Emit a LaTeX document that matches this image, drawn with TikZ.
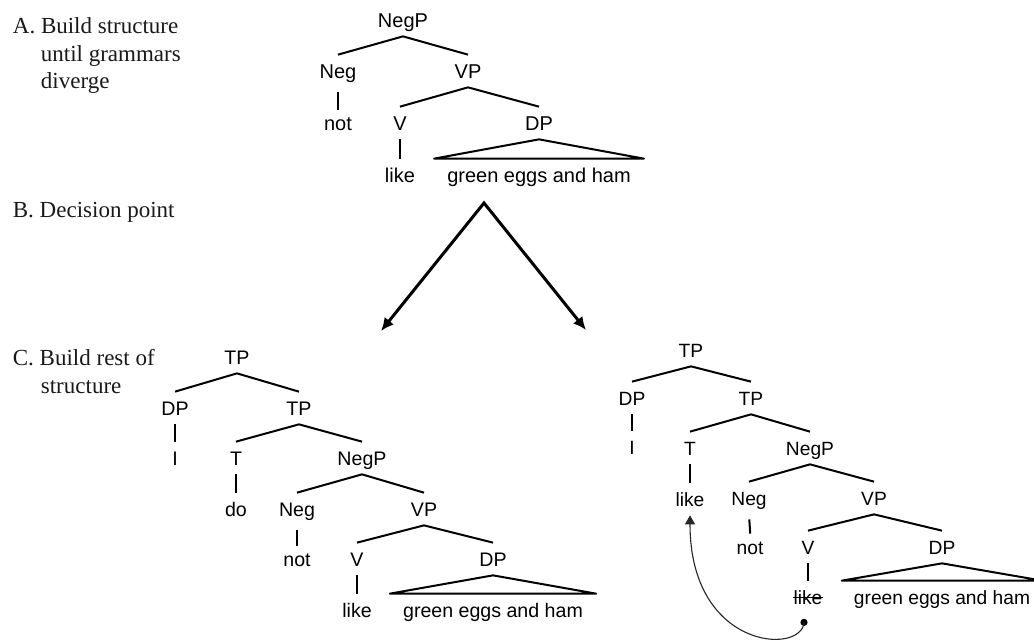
\documentclass[tikz,border=0pt]{standalone}
\usepackage{fontspec}
\setmainfont{Liberation Serif}
\setsansfont{Liberation Sans}
\usetikzlibrary{arrows.meta}
\begin{document}
\begin{tikzpicture}[x=1pt,y=-1pt,
  lab/.style={font=\sffamily\fontsize{20}{24}\selectfont, inner xsep=0pt, inner ysep=9pt, text height=14.3pt, text depth=0pt},
  labL/.style={lab, font=\sffamily\fontsize{19.6}{24}\selectfont},
  labR/.style={lab, font=\sffamily\fontsize{19.2}{24}\selectfont},
  br/.style={line width=2pt, line join=round},
  desc/.style={shorten <=5pt, shorten >=-3pt},
  serifl/.style={font=\fontsize{23}{27}\selectfont, inner sep=0pt, anchor=base west, text=black!90},
  decarrow/.style={line width=3pt, line join=miter, {Latex[length=13pt,width=12pt]}-{Latex[length=13pt,width=12pt]}},
  mvarrow/.style={line width=1.1pt, draw=black!85, -{Triangle[length=9pt,width=10pt]}},
]
\useasboundingbox (0,0) rectangle (1034,643);

% left labels
\node[serifl] (la1) at (12.7,33.5) {A. Build structure};
\node[serifl] (la2) at (40.7,61) {until grammars};
\node[serifl] (la3) at (40.7,88.5) {diverge};
\node[serifl] (lb) at (12.7,217.3) {B. Decision point};
\node[serifl] (lc1) at (12.7,365.7) {C. Build rest of};
\node[serifl] (lc2) at (40.7,393) {structure};

% top tree
\node[lab] (t0) at (403,20) {NegP};
\node[lab] (t0neg) at (338,71) {Neg};
\node[lab] (t0vp) at (468,71) {VP};
\node[lab] (t0not) at (338,123) {not};
\node[lab] (t0v) at (400,123) {V};
\node[lab] (t0dp) at (539,123) {DP};
\node[lab] (t0like) at (400,175) {like};
\node[lab, inner xsep=13pt] (t0g) at (539,175) {green eggs and ham};
\draw[br] (t0neg.north) -- (t0.south) -- (t0vp.north);
\draw[br, desc] (t0neg.south) -- (t0not.north);
\draw[br] (t0v.north) -- (t0vp.south) -- (t0dp.north);
\draw[br] (t0v.south) -- (t0like.north);
\draw[br] (t0dp.south) -- (t0g.north west) -- (t0g.north east) -- cycle;

% decision arrows
\coordinate (dec) at (484,203);
\coordinate (decL) at (381,331);
\coordinate (decR) at (586,330);
\draw[decarrow] (decL) -- (dec) -- (decR);

% bottom-left tree
\node[labL] (l0) at (237,357) {TP};
\node[labL] (l1dp) at (175,408) {DP};
\node[labL] (l1tp) at (299,408) {TP};
\node[labL] (l1i) at (175,458) {I};
\node[labL] (l2t) at (236,458) {T};
\node[labL] (l2negp) at (362,458) {NegP};
\node[labL] (l2do) at (236,509) {do};
\node[labL] (l3neg) at (297,509) {Neg};
\node[labL] (l3vp) at (424,509) {VP};
\node[labL] (l3not) at (297,559) {not};
\node[labL] (l4v) at (357,559) {V};
\node[labL] (l4dp) at (493,559) {DP};
\node[labL] (l4like) at (357,610) {like};
\node[labL, inner xsep=13pt] (l4g) at (493,610) {green eggs and ham};
\draw[br] (l1dp.north) -- (l0.south) -- (l1tp.north);
\draw[br] (l1dp.south) -- (l1i.north);
\draw[br] (l2t.north) -- (l1tp.south) -- (l2negp.north);
\draw[br] (l2t.south) -- (l2do.north);
\draw[br] (l3neg.north) -- (l2negp.south) -- (l3vp.north);
\draw[br, desc] (l3neg.south) -- (l3not.north);
\draw[br] (l4v.north) -- (l3vp.south) -- (l4dp.north);
\draw[br] (l4v.south) -- (l4like.north);
\draw[br] (l4dp.south) -- (l4g.north west) -- (l4g.north east) -- cycle;

% bottom-right tree
\node[labR] (r0) at (691,350) {TP};
\node[labR] (r1dp) at (632,398) {DP};
\node[labR] (r1tp) at (751,398) {TP};
\node[labR] (r1i) at (632,447) {I};
\node[labR] (r2t) at (690,448) {T};
\node[labR] (r2negp) at (810,448) {NegP};
\node[labR] (r2like) at (690,499) {like};
\node[labR] (r3neg) at (749,498) {Neg};
\node[labR] (r3vp) at (874,498) {VP};
\node[labR] (r3not) at (750,547) {not};
\node[labR] (r4v) at (808,547) {V};
\node[labR] (r4dp) at (942,547) {DP};
\node[labR] (r4like) at (808,597) {like};
\node[labR, inner xsep=12pt] (r4g) at (942,597) {green eggs and ham};
\draw[br] (r1dp.north) -- (r0.south) -- (r1tp.north);
\draw[br] (r1dp.south) -- (r1i.north);
\draw[br] (r2t.north) -- (r1tp.south) -- (r2negp.north);
\draw[br] (r2t.south) -- (r2like.north);
\draw[br] (r3neg.north) -- (r2negp.south) -- (r3vp.north);
\draw[br, desc] (r3neg.south) -- (r3not.north);
\draw[br] (r4v.north) -- (r3vp.south) -- (r4dp.north);
\draw[br] (r4v.south) -- (r4like.north);
\draw[br] (r4dp.south) -- (r4g.north west) -- (r4g.north east) -- cycle;
\draw[line width=0.9pt] (r4like.west) -- (r4like.east);

% movement arrow
\coordinate (mv) at ([xshift=-4pt,yshift=-9pt]r4like.south);
\fill (mv) circle (3.6pt);
\draw[mvarrow] (mv) .. controls (802,655) and (690,650) .. (r2like.south);
\end{tikzpicture}
\end{document}
